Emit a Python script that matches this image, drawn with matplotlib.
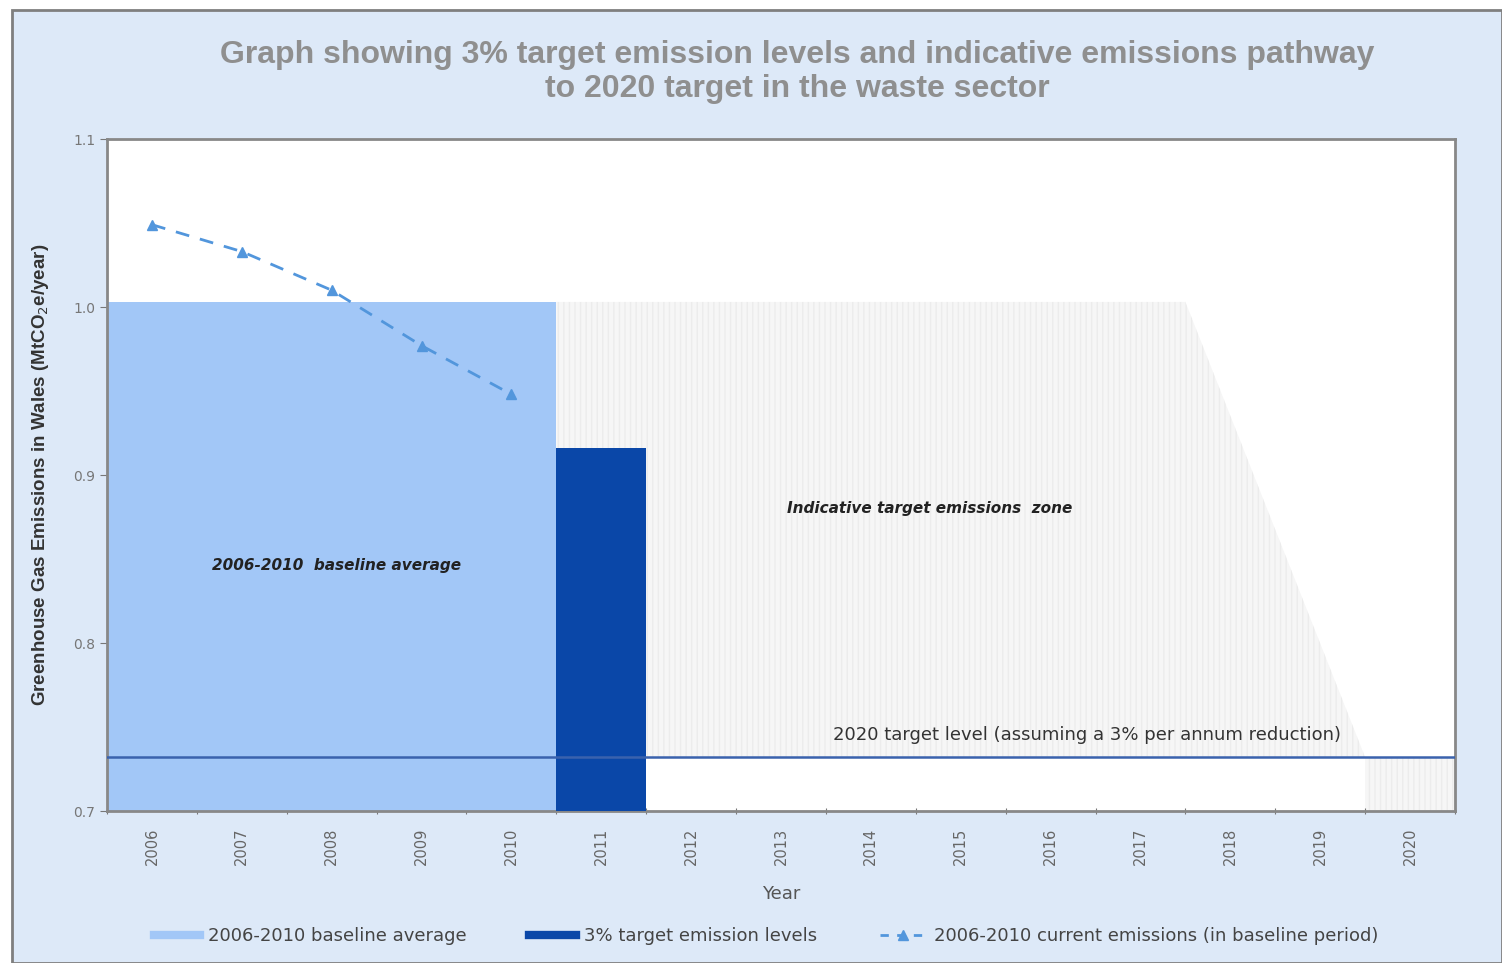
import numpy as np
import matplotlib.pyplot as plt
from matplotlib.patches import Rectangle
from matplotlib.lines import Line2D

# 데이터
years = list(range(2006, 2021))
baseline_years = [2006, 2007, 2008, 2009, 2010]
baseline_avg = 1.003
current_emissions = [1.049, 1.033, 1.010, 0.977, 0.948]
target_year = 2011
target_2011 = 0.916
target_2020 = 0.732
# indicative zone: upper edge at year boundaries
zone_years = [2010.5, 2017.5, 2019.5]
zone_upper = [1.003, 1.003, 0.732]

fig = plt.figure(figsize=(15.02, 9.63), dpi=100)
fig.patch.set_facecolor('white')
fig.patches.append(Rectangle((12 / 1502, 0), 1 - 12 / 1502, 1 - 10 / 963,
                             transform=fig.transFigure, facecolor='#dde9f8',
                             edgecolor='#7f7f7f', linewidth=2, zorder=-10))

ax = fig.add_axes([107 / 1502, 1 - 811 / 963, (1455 - 107) / 1502, (811 - 139) / 963])
ax.set_facecolor('white')

x = np.arange(len(years))
xi = lambda y: y - years[0]

# indicative zone (light grey stripes)
zx = [xi(v) for v in zone_years]
ax.fill_between(zx, [target_2020] * len(zx), zone_upper, facecolor='#f6f6f6',
                edgecolor='#ececec', hatch='|||', linewidth=0, zorder=1)
ax.bar(xi(2020), target_2020 - 0.7, bottom=0.7, width=1.0, facecolor='#f6f6f6',
       edgecolor='#ececec', hatch='|||', linewidth=0, zorder=1)

# baseline band
bx = [xi(baseline_years[0]) - 0.5, xi(baseline_years[-1]) + 0.5]
ax.fill_between(bx, 0.7, baseline_avg, color='#a2c7f7', linewidth=0, zorder=2)

# 2011 target bar
ax.bar(xi(target_year), target_2011 - 0.7, bottom=0.7, width=1.0, color='#0a47a8',
       linewidth=0, zorder=3)

# 2020 target level line
ax.axhline(target_2020, color='#3a62ad', linewidth=1.8, zorder=4)

# current emissions
ax.plot([xi(y) for y in baseline_years], current_emissions, linestyle=(0, (5, 4)),
        color='#5296dc', linewidth=2, marker='^', markersize=6.5, zorder=5)

ax.set_xlim(-0.5, len(years) - 0.5)
ax.set_ylim(0.7, 1.1)
ax.set_yticks([0.7, 0.8, 0.9, 1.0, 1.1])
ax.set_yticklabels(['0.7', '0.8', '0.9', '1.0', '1.1'], fontsize=10, color='#777777')
ax.set_xticks(np.arange(-0.5, len(years)), minor=False)
ax.set_xticklabels([])
ax.set_xticks(x, minor=True)
ax.set_xticklabels([str(y) for y in years], minor=True, rotation=90, fontsize=10.5,
                   color='#666666')
ax.tick_params(axis='x', which='minor', length=0, pad=12)
ax.tick_params(axis='x', which='major', length=5, color='#777777', direction='inout')
ax.tick_params(axis='y', length=5, color='#777777')
for s in ax.spines.values():
    s.set_color('#888888')
    s.set_linewidth(2)

ax.set_xlabel('Year', fontsize=13, color='#555555', labelpad=14)
ax.set_ylabel('Greenhouse Gas Emissions in Wales (MtCO$_2$e/year)', fontsize=13.5,
              fontweight='bold', color='#333333', family='Liberation Sans', labelpad=16)

ax.text(xi(2008.06), 0.846, '2006-2010  baseline average', fontsize=11,
        fontweight='bold', style='italic', ha='center', va='center', color='#222222',
        zorder=6)
ax.text(xi(2014.65), 0.880, 'Indicative target emissions  zone', fontsize=11,
        fontweight='bold', style='italic', ha='center', va='center', color='#222222',
        zorder=6)
ax.text(xi(2016.4), 0.745, '2020 target level (assuming a 3% per annum reduction)',
        fontsize=13, ha='center', va='center', color='#333333', zorder=6)

fig.text(0.531, 1 - 72 / 963,
         'Graph showing 3% target emission levels and indicative emissions pathway\n'
         'to 2020 target in the waste sector',
         ha='center', va='center', fontsize=23, fontweight='bold', color='#8f8f8f',
         family='Liberation Sans', linespacing=1.2)

handles = [
    Line2D([], [], color='#a2c7f7', linewidth=6),
    Line2D([], [], color='#0a47a8', linewidth=6),
    Line2D([], [], color='#5296dc', linewidth=2, linestyle=(0, (3, 3)), marker='^',
           markersize=7),
]
labels = ['2006-2010 baseline average', '3% target emission levels',
          '2006-2010 current emissions (in baseline period)']
fig.legend(handles, labels, loc='center', bbox_to_anchor=(0.51, 1 - 936 / 963),
           ncol=3, frameon=False, fontsize=13, handlelength=2.6, columnspacing=3.5,
           labelcolor='#444444', handletextpad=0.4)

fig.savefig('out.png', dpi=100, facecolor=fig.get_facecolor())
